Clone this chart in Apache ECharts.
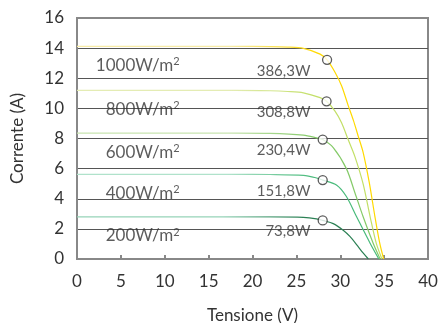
<!DOCTYPE html>
<html>
<head>
<meta charset="utf-8">
<script src="https://cdn.jsdelivr.net/npm/echarts@6/dist/echarts.min.js"></script>
<style>
  html, body { margin: 0; padding: 0; background: #fff; }
  #main { width: 439px; height: 323px; }
</style>
</head>
<body>
<div id="main"></div>
<script>
// irraggiamento e potenza al punto di massima potenza
var irradiance = ['1000', '800', '600', '400', '200'];
var power = ['386,3W', '308,8W', '230,4W', '151,8W', '73,8W'];

// curve I-V: [tensione V, corrente A]
var curve1000 = [[0, 14.12], [18, 14.12], [22, 14.1], [24, 14.07], [25.8, 13.98], [27.7, 13.6], [28.5, 13.22],
  [29.4, 12.4], [30.15, 11.5], [30.9, 10.2], [31.5, 9.2], [32.05, 8.15], [32.6, 7.1], [33.3, 5.1],
  [33.95, 2.82], [34.5, 1.05], [34.95, 0]];
var curve800 = [[0, 11.2], [18, 11.2], [22, 11.17], [24, 11.12], [25.8, 11.03], [27.7, 10.71], [28.44, 10.47],
  [29.4, 9.82], [30.15, 9.05], [30.9, 7.93], [31.67, 6.8], [32.6, 5.0], [33.4, 2.82], [34.1, 1.05], [34.75, 0]];
var curve600 = [[0, 8.36], [18, 8.36], [22, 8.34], [25.8, 8.22], [27.3, 8.04], [28.0, 7.93], [29.2, 7.4],
  [30.7, 6.0], [31.67, 4.4], [32.6, 2.82], [33.75, 1.05], [34.55, 0]];
var curve400 = [[0, 5.62], [18, 5.62], [22, 5.61], [25.8, 5.55], [27.3, 5.38], [28.0, 5.24], [29.6, 4.9],
  [30.7, 4.15], [31.85, 2.82], [33.4, 1.05], [34.4, 0]];
var curve200 = [[0, 2.8], [18, 2.8], [22, 2.8], [25.8, 2.77], [27.3, 2.67], [28.0, 2.56], [29.2, 2.35],
  [30.3, 1.93], [31.1, 1.5], [32.0, 0.85], [32.6, 0.4], [33.2, 0]];

// punti di massima potenza
var mppV = [28.5, 28.44, 28.0, 28.0, 28.0];
var mppI = [13.22, 10.47, 7.93, 5.24, 2.56];

var curves = [curve1000, curve800, curve600, curve400, curve200];

// colori: chiaro a sinistra, pieno verso il ginocchio
var lineColors = [
  ['#f7eba6', '#ffd900'],
  ['#e4ecb4', '#c2df66'],
  ['#c8e4b0', '#84ca68'],
  ['#b0e2cb', '#48ba7a'],
  ['#96d3b8', '#2b8054']
];

var font = 'Lato';
var textColor = '#333';

var chart = echarts.init(document.getElementById('main'));

var series = curves.map(function (c, i) {
  return {
    type: 'line',
    data: c,
    smooth: 0.3,
    showSymbol: false,
    silent: true,
    z: 3,
    lineStyle: {
      width: 1.2,
      color: {
        type: 'linear', x: 0, y: 0, x2: 1, y2: 0,
        colorStops: [
          { offset: 0, color: lineColors[i][0] },
          { offset: 0.5, color: lineColors[i][0] },
          { offset: 0.78, color: lineColors[i][1] },
          { offset: 1, color: lineColors[i][1] }
        ]
      }
    }
  };
});

// cerchi sui punti di massima potenza
series.push({
  type: 'scatter',
  data: mppV.map(function (v, i) { return [v, mppI[i]]; }),
  symbol: 'circle',
  symbolSize: 9,
  silent: true,
  z: 5,
  itemStyle: { color: '#fff', borderColor: '#333', borderWidth: 1.3 }
});

// etichette potenza
series.push({
  type: 'scatter',
  data: mppI.map(function (v, i) { return { value: [26.6, v], name: power[i] }; }),
  symbolSize: 0,
  silent: true,
  z: 4,
  label: {
    show: true,
    position: 'inside',
    align: 'right',
    verticalAlign: 'middle',
    offset: [0, 11],
    formatter: '{b}',
    fontFamily: font,
    fontSize: 15,
    color: textColor
  }
});

// etichette irraggiamento
series.push({
  type: 'scatter',
  data: curves.map(function (c, i) { return { value: [11.7, c[0][1]], name: irradiance[i] }; }),
  symbolSize: 0,
  silent: true,
  z: 1,
  label: {
    show: true,
    position: 'inside',
    align: 'right',
    verticalAlign: 'middle',
    offset: [0, 19],
    formatter: function (p) { return '{a|' + p.name + 'W/m}{s|2}'; },
    rich: {
      a: { fontFamily: font, fontSize: 17, color: textColor, lineHeight: 18 },
      s: { fontFamily: font, fontSize: 11, color: textColor, verticalAlign: 'top', lineHeight: 12 }
    }
  }
});

var option = {
  animation: false,
  grid: {
    left: 77, right: 11, top: 18, bottom: 64,
    outerBoundsMode: 'none',
    containLabel: false,
    show: true,
    borderColor: '#888',
    borderWidth: 2
  },
  xAxis: {
    type: 'value',
    min: 0, max: 40, interval: 5,
    name: 'Tensione (V)',
    nameLocation: 'middle',
    nameGap: 48,
    nameTextStyle: { fontFamily: font, fontSize: 17, color: textColor },
    axisLine: { show: true, lineStyle: { color: '#888', width: 2 } },
    axisTick: { show: true, inside: true, length: 4, lineStyle: { color: '#888', width: 2 } },
    axisLabel: { margin: 14, fontFamily: font, fontSize: 17, color: textColor },
    splitLine: { show: false }
  },
  yAxis: {
    type: 'value',
    min: 0, max: 16, interval: 2,
    name: 'Corrente (A)',
    nameLocation: 'middle',
    nameGap: 51,
    nameTextStyle: { fontFamily: font, fontSize: 17, color: textColor },
    axisLine: { show: true, lineStyle: { color: '#888', width: 2 } },
    axisTick: { show: false },
    axisLabel: { margin: 13, fontFamily: font, fontSize: 17, color: textColor },
    splitLine: { show: true, showMinLine: false, showMaxLine: false, lineStyle: { color: '#555', width: 1 } }
  },
  series: series
};

chart.setOption(option);
</script>
</body>
</html>
